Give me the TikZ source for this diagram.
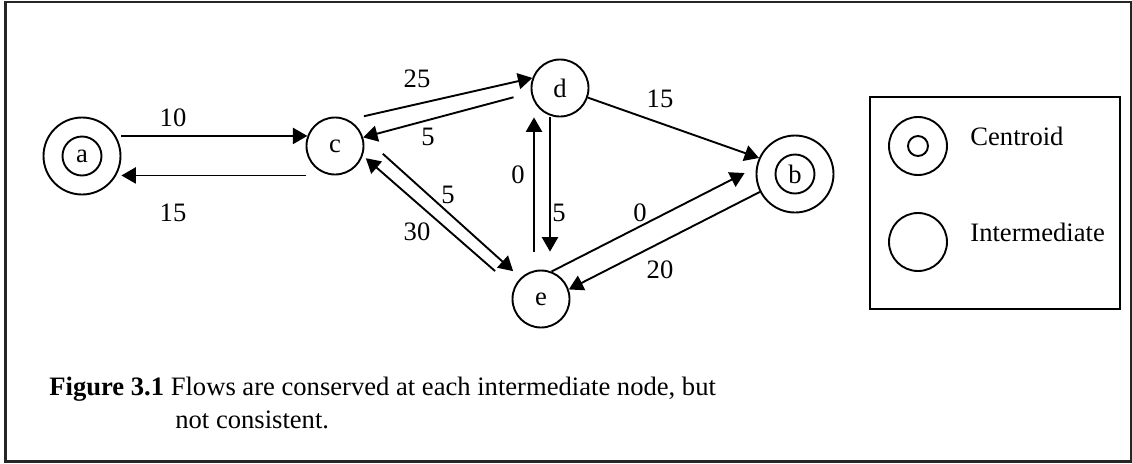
\documentclass[tikz,border=0pt]{standalone}
\usepackage{fontspec}
\setmainfont{Liberation Serif}
\usetikzlibrary{arrows}

\begin{document}
\begin{tikzpicture}[x=0.5pt, y=-0.5pt, every node/.style={font=\fontsize{13.3}{16}\selectfont}]
    \tikzstyle{inter} = [circle, draw, line width=0.95pt, minimum size=28.5pt, inner sep=0pt]
    \tikzstyle{ring} = [circle, draw, line width=0.95pt, minimum size=38.5pt, inner sep=0pt]
    \tikzstyle{core} = [circle, draw, line width=0.95pt, minimum size=19.5pt, inner sep=0pt]
    \tikzstyle{flow} = [inner sep=0pt]
    \tikzstyle{link} = [->, line width=0.95pt, >=triangle 60]

    \useasboundingbox (0,0) rectangle (1132,463);
    \draw[line width=1.15pt, black!85] (5.5,1.8) rectangle (1131,461.5);

    % zones and intermediate nodes
    \node[ring] (a) at (82,156) {};
    \node[core] (ain) at (a) {a};
    \node[ring] (b) at (795,174) {};
    \node[core] (bin) at (b) {b};
    \node[inter] (c) at (335,146) {c};
    \node[inter] (d) at (560,88) {d};
    \node[inter] (e) at (541,299) {e};

    % flows
    \draw[link] (a.east |- c.160) -- (c.160);
    \draw[link] (c.south -| c.west) -- (a.east |- c.south);
    \draw[link, shorten <=8pt] (c.63) -- (d.160);
    \draw[link, shorten <=9pt] (d.189) -- (c.17);
    \draw[link] (d.341) -- (b.156);
    \draw[link] ([shift={(-3.5pt,9pt)}]e.north) -- ([xshift=-3.5pt]e.north |- d.south);
    \draw[link] ([xshift=4.5pt]e.north |- d.south) -- ([shift={(4.5pt,9pt)}]e.north);
    \draw[link, shorten <=13.7pt, shorten >=5pt] (c.21) -- (e.134);
    \draw[link, shorten <=12.5pt, shorten >=2pt] (e.157) -- (c.341);
    \draw[link, shorten >=6.5pt] (e.69) -- (b.170);
    \draw[link] (b.207) -- (e.19);

    \node[flow] (f-ac) at (173,118) {10};
    \node[flow] (f-ca) at (173,213) {15};
    \node[flow] (f-cd) at (417,79) {25};
    \node[flow] (f-dc) at (428,137) {5};
    \node[flow] (f-db) at (660,99) {15};
    \node[flow] (f-ed) at (518,175) {0};
    \node[flow] (f-de) at (559,213) {5};
    \node[flow] (f-ce) at (448,195) {5};
    \node[flow] (f-ec) at (417,232) {30};
    \node[flow] (f-eb) at (640,213) {0};
    \node[flow] (f-be) at (660,270) {20};

    % legend
    \draw[line width=0.95pt] (870,97) rectangle (1120,309);
    \node[circle, draw, line width=0.95pt, minimum size=29pt, inner sep=0pt] (key-ring) at (918,146) {};
    \node[circle, draw, line width=0.95pt, minimum size=10pt, inner sep=0pt] (key-core) at (key-ring) {};
    \node[circle, draw, line width=0.95pt, minimum size=29pt, inner sep=0pt] (key-inter) at (918,242) {};
    \node[anchor=base west, inner sep=0pt] (key-ring-txt) at (970,145) {Centroid};
    \node[anchor=base west, inner sep=0pt] (key-inter-txt) at (970,241.5) {Intermediate};

    % caption
    \node[anchor=base west, inner sep=0pt] (cap1) at (49,395) {\textbf{Figure 3.1} Flows are conserved at each intermediate node, but};
    \node[anchor=base west, inner sep=0pt] (cap2) at (175,428) {not consistent.};
\end{tikzpicture}
\end{document}
